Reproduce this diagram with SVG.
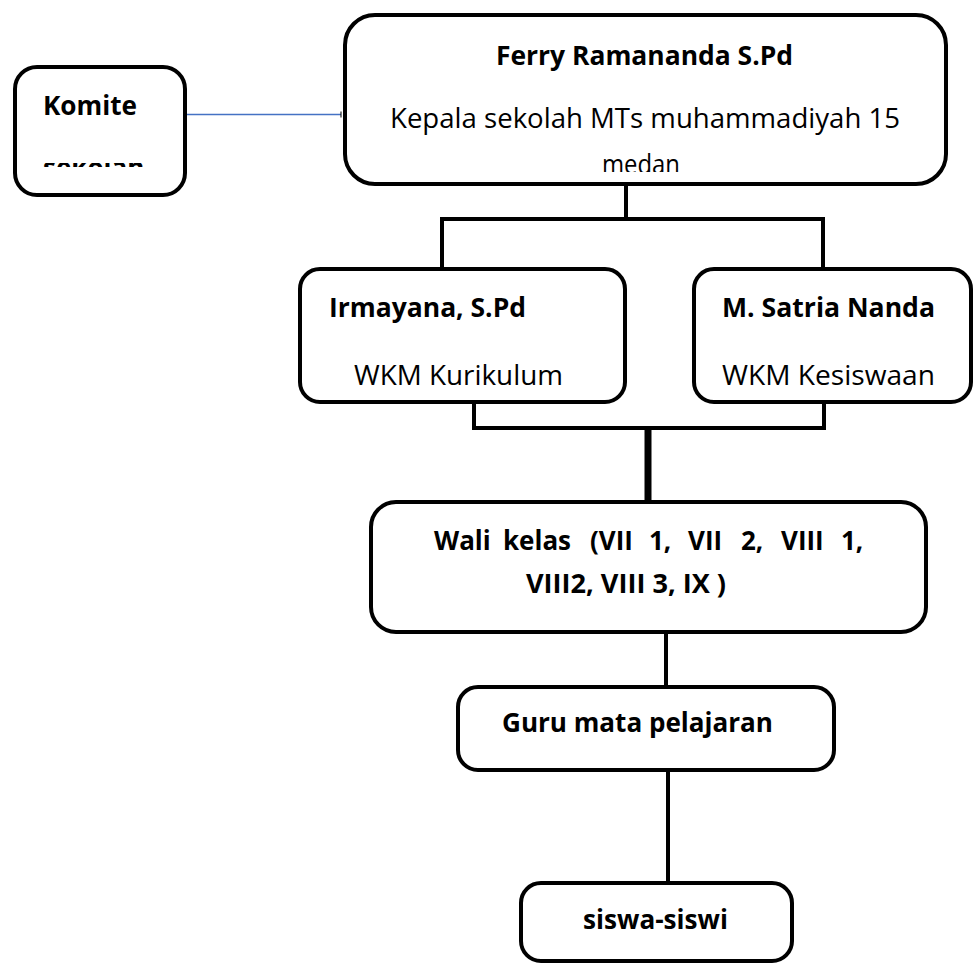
<svg xmlns="http://www.w3.org/2000/svg" width="974" height="965" viewBox="0 0 974 965">
<style>
.box{fill:#fff;stroke:#000;stroke-width:4}
.ln{fill:none;stroke:#000;stroke-width:4;stroke-linecap:butt;stroke-linejoin:miter}
.b{font-family:"Open Sans","Liberation Sans",sans-serif;font-weight:bold;font-size:26px;fill:#000}
.r{font-family:"Open Sans","Liberation Sans",sans-serif;font-size:27px;fill:#000}
</style>
<defs>
<clipPath id="clipKomite"><rect x="15" y="163" width="170" height="4"/></clipPath>
<clipPath id="clipKepala"><rect x="345" y="15" width="601" height="157"/></clipPath>
<marker id="tick" markerWidth="2" markerHeight="8" refX="1" refY="4" orient="auto" markerUnits="userSpaceOnUse">
<line x1="1" y1="1" x2="1" y2="7" stroke="#000" stroke-width="1"/>
</marker>
</defs>
<rect width="974" height="965" fill="#fff"/>
<g id="connectors">
<line x1="187" y1="114.5" x2="341" y2="114.5" stroke="#4472C4" stroke-width="1.5" marker-end="url(#tick)"/>
<polyline class="ln" points="626,184 626,219"/>
<polyline class="ln" points="442,269 442,219 823,219 823,269"/>
<polyline class="ln" points="474,402 474,428 824,428 824,402"/>
<line x1="648" y1="428" x2="648" y2="502" stroke="#000" stroke-width="7"/>
<line x1="666" y1="632" x2="666" y2="687" stroke="#000" stroke-width="4"/>
<line x1="668" y1="770" x2="668" y2="883" stroke="#000" stroke-width="4"/>
</g>
<g id="komite">
<rect class="box" x="15" y="67" width="170" height="128" rx="22"/>
<text class="b" x="43" y="115" textLength="94" lengthAdjust="spacingAndGlyphs">Komite</text>
<text class="b" x="43" y="177" clip-path="url(#clipKomite)">sekolah</text>
</g>
<g id="kepala">
<rect class="box" x="345" y="15" width="601" height="169" rx="30"/>
<text class="b" x="496" y="65" textLength="297" lengthAdjust="spacingAndGlyphs">Ferry Ramananda S.Pd</text>
<text class="r" x="390" y="128" textLength="510" lengthAdjust="spacingAndGlyphs">Kepala sekolah MTs muhammadiyah 15</text>
<text class="r" x="602" y="174" textLength="78" lengthAdjust="spacingAndGlyphs" clip-path="url(#clipKepala)">medan</text>
</g>
<g id="irmayana">
<rect class="box" x="300" y="269" width="325" height="133" rx="20"/>
<text class="b" x="329" y="317" textLength="197" lengthAdjust="spacingAndGlyphs">Irmayana, S.Pd</text>
<text class="r" x="354" y="385" textLength="209" lengthAdjust="spacingAndGlyphs">WKM Kurikulum</text>
</g>
<g id="satria">
<rect class="box" x="694" y="269" width="277" height="133" rx="20"/>
<text class="b" x="722" y="317" textLength="213" lengthAdjust="spacingAndGlyphs">M. Satria Nanda</text>
<text class="r" x="722" y="385" textLength="213" lengthAdjust="spacingAndGlyphs">WKM Kesiswaan</text>
</g>
<g id="walikelas">
<rect class="box" x="371" y="502" width="555" height="130" rx="25"/>
<text class="b" y="550"><tspan x="434">Wali</tspan> <tspan x="503">kelas</tspan> <tspan x="590">(VII</tspan> <tspan x="649">1,</tspan> <tspan x="688">VII</tspan> <tspan x="741">2,</tspan> <tspan x="781">VIII</tspan> <tspan x="841">1,</tspan></text>
<text class="b" x="526" y="593" textLength="200" lengthAdjust="spacingAndGlyphs">VIII2, VIII 3, IX )</text>
</g>
<g id="guru">
<rect class="box" x="458" y="687" width="376" height="83" rx="20"/>
<text class="b" x="502" y="732" textLength="271" lengthAdjust="spacingAndGlyphs">Guru mata pelajaran</text>
</g>
<g id="siswa">
<rect class="box" x="521" y="883" width="271" height="78" rx="20"/>
<text class="b" x="583" y="929" textLength="145" lengthAdjust="spacingAndGlyphs">siswa-siswi</text>
</g>
</svg>
